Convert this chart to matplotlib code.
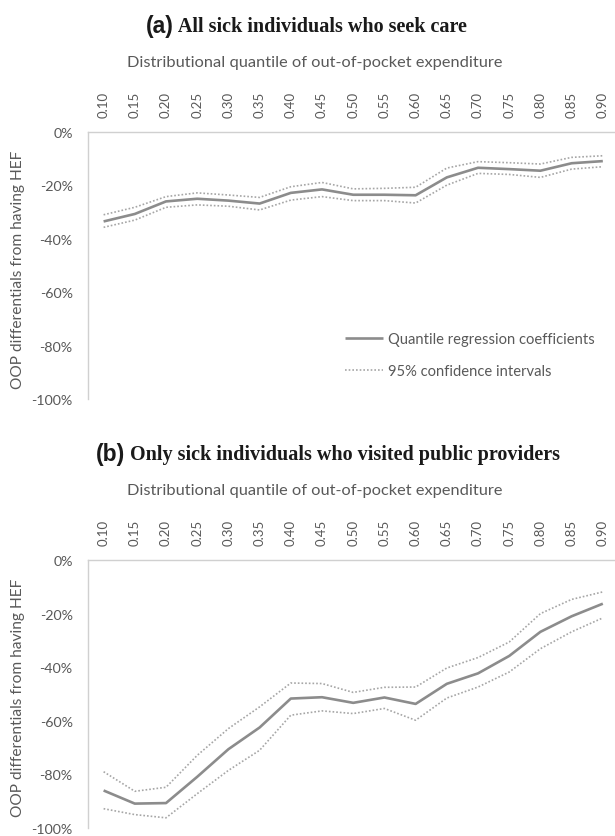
import matplotlib
matplotlib.use("Agg")
import matplotlib.pyplot as plt
import numpy as np
from matplotlib.ticker import FuncFormatter

quantiles = ["0.10", "0.15", "0.20", "0.25", "0.30", "0.35", "0.40", "0.45", "0.50",
             "0.55", "0.60", "0.65", "0.70", "0.75", "0.80", "0.85", "0.90"]

# panel (a): all sick individuals who seek care (%)
a_coef = [-33.5, -30.7, -26.0, -25.0, -25.7, -26.8, -22.8, -21.5, -23.5,
          -23.5, -23.7, -17.0, -13.4, -13.9, -14.5, -11.7, -10.9]
a_upper = [-31.0, -28.2, -24.2, -22.8, -23.6, -24.5, -20.5, -18.9, -21.3,
           -21.1, -20.7, -13.5, -11.1, -11.5, -12.0, -9.5, -8.9]
a_lower = [-35.7, -33.0, -28.2, -27.3, -27.8, -29.2, -25.5, -24.2, -25.7,
           -25.7, -26.6, -19.9, -15.5, -15.9, -17.0, -13.9, -13.0]

# panel (b): only sick individuals who visited public providers (%)
b_coef = [-86.0, -90.9, -90.7, -80.9, -70.6, -62.5, -51.7, -51.2, -53.3,
          -51.3, -53.7, -46.2, -42.3, -35.8, -26.8, -21.0, -16.3]
b_upper = [-79.0, -86.3, -84.8, -72.9, -62.9, -54.8, -45.9, -46.1, -49.4,
           -47.5, -47.4, -40.3, -36.4, -30.6, -20.0, -14.7, -11.9]
b_lower = [-92.8, -95.0, -96.2, -87.2, -78.5, -71.0, -57.9, -56.3, -57.3,
           -55.4, -59.8, -51.5, -47.4, -41.8, -33.1, -26.8, -21.6]

W, H = 615, 837
TXT = "#595959"
SANS = ["Lato", "DejaVu Sans"]

fig = plt.figure(figsize=(W / 100, H / 100), dpi=100)


def px_axes(left, top, right, bottom):
    return fig.add_axes([left / W, 1 - bottom / H, (right - left) / W, (bottom - top) / H])


def draw_panel(ax, coef, upper, lower, letter, title, title_x, top, legend=False):
    x = np.arange(len(quantiles))
    ax.plot(x, coef, color="#8c8c8c", linewidth=1.9, solid_capstyle="butt",
            label="Quantile regression coefficients")
    ax.plot(x, upper, color="#a6a6a6", linewidth=1.2, linestyle=(0, (1, 1.2)),
            label="95% confidence intervals")
    ax.plot(x, lower, color="#a6a6a6", linewidth=1.2, linestyle=(0, (1, 1.2)))

    ax.set_xlim(-0.5, 16.39)
    ax.set_ylim(-100, 0)
    ax.xaxis.tick_top()
    ax.set_xticks(x)
    ax.set_xticklabels(quantiles, rotation=90, family=SANS, fontsize=9.5, color=TXT)
    ax.set_yticks(np.arange(-100, 1, 20))
    ax.yaxis.set_major_formatter(FuncFormatter(lambda v, p: "%d%%" % v))
    for lab in ax.get_yticklabels():
        lab.set_family(SANS)
        lab.set_fontsize(10.3)
        lab.set_color(TXT)
    ax.tick_params(axis="x", length=0, pad=11)
    ax.tick_params(axis="y", length=0, pad=11)
    for s in ["right", "bottom"]:
        ax.spines[s].set_visible(False)
    for s in ["left", "top"]:
        ax.spines[s].set_color("#d0d0d0")
        ax.spines[s].set_linewidth(1.0)

    # titles and labels
    t1 = fig.text(title_x / W, 1 - (top - 106) / H, "(" + letter + ")", family="Liberation Sans",
                  fontsize=16.5, fontweight="bold", color="#1a1a1a", va="center", ha="left")
    ax.annotate(" " + title, xy=(1, 0.5), xycoords=t1, va="center", ha="left",
                family="Liberation Serif", fontsize=14.5, fontweight="bold", color="#1a1a1a")
    fig.text(315 / W, 1 - (top - 70) / H, "Distributional quantile of out-of-pocket expenditure",
             family=SANS, fontsize=11.8, color=TXT, ha="center", va="center")
    fig.text(18 / W, 1 - (top + 137) / H, "OOP differentials from having HEF",
             family=SANS, fontsize=11.2, color=TXT, ha="center", va="center", rotation=90)

    if legend:
        ax.legend(loc="upper left", bbox_to_anchor=(345 / W, 1 - 333 / H),
                  bbox_transform=fig.transFigure, frameon=False, prop={"family": SANS, "size": 10.6},
                  labelcolor=TXT, handlelength=2.55, handletextpad=0.35, labelspacing=1.2,
                  borderpad=0, borderaxespad=0)


ax_a = px_axes(88, 133, 615, 400)
draw_panel(ax_a, a_coef, a_upper, a_lower, "a", "All sick individuals who seek care", 146, 133, legend=True)

ax_b = px_axes(88, 561, 615, 829)
draw_panel(ax_b, b_coef, b_upper, b_lower, "b", "Only sick individuals who visited public providers", 96, 561)

fig.savefig("out.png", dpi=100, facecolor="white")
